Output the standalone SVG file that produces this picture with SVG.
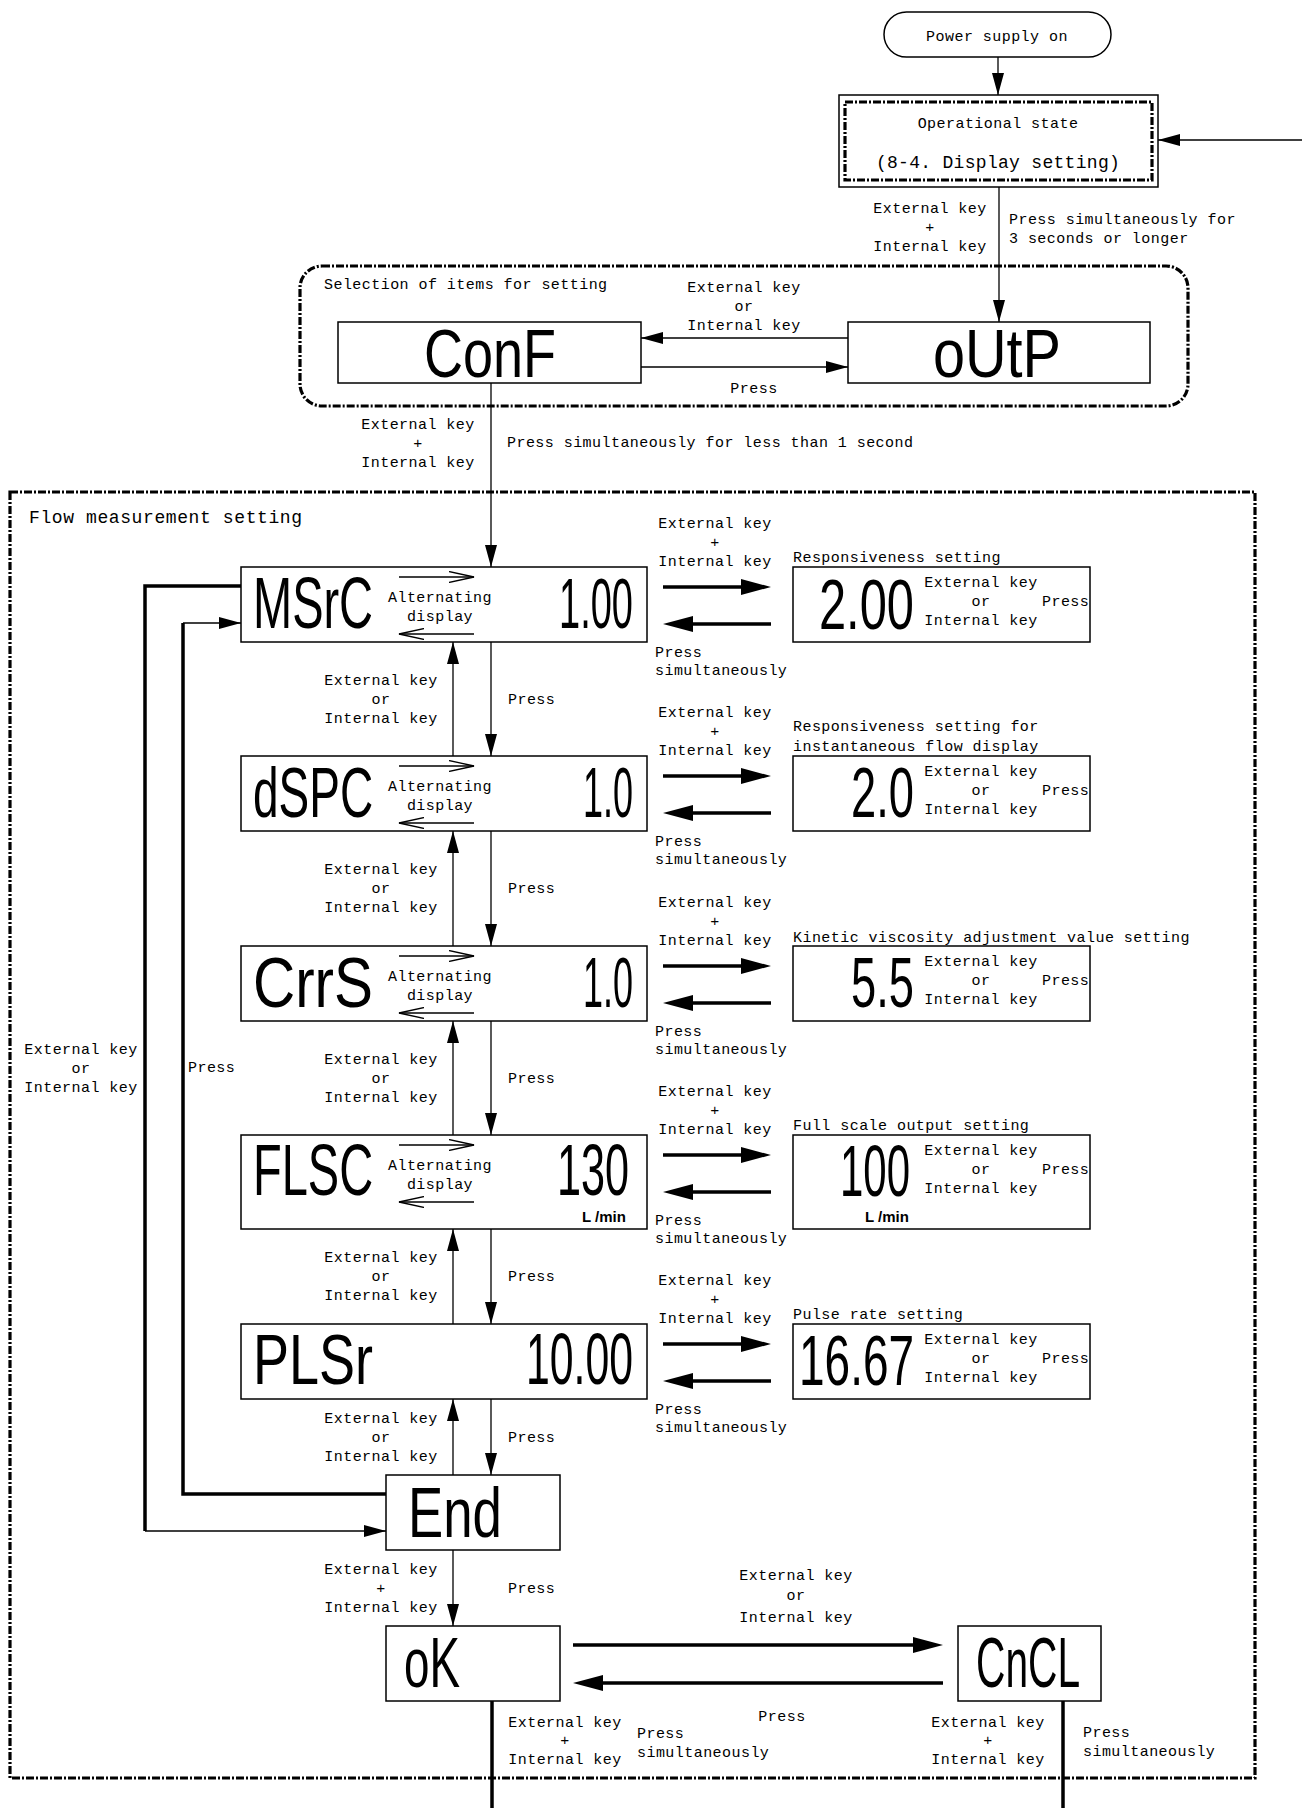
<svg xmlns="http://www.w3.org/2000/svg" width="1302" height="1808" viewBox="0 0 1302 1808">
<style>
.t{font-family:"Liberation Mono","DejaVu Sans Mono",monospace;font-size:15px;letter-spacing:0.45px;fill:#000}
.m{text-anchor:middle}
.e{text-anchor:end}
.big{font-size:18px;letter-spacing:0.3px}
.ttl{font-size:18px;letter-spacing:0.6px}
.lcd{font-family:"Liberation Sans","DejaVu Sans",sans-serif;fill:#000}
.unit{font-family:"Liberation Sans","DejaVu Sans",sans-serif;font-size:15px;font-weight:bold;fill:#000}
.box{fill:#fff;stroke:#000;stroke-width:1.5}
.thin{fill:none;stroke:#000;stroke-width:1.3}
.thick{fill:none;stroke:#000;stroke-width:3.5}
.dash{fill:none;stroke:#000;stroke-width:3.2;stroke-dasharray:8 2 2 2}
</style>
<defs>
<marker id="a" viewBox="0 0 22 12" refX="22" refY="6" markerWidth="22" markerHeight="12" markerUnits="userSpaceOnUse" orient="auto"><path d="M0,0 L22,6 L0,12 z" fill="#000"/></marker>
<marker id="b" viewBox="0 0 30 16" refX="10" refY="8" markerWidth="30" markerHeight="16" markerUnits="userSpaceOnUse" orient="auto"><path d="M0,0 L30,8 L0,16 z" fill="#000"/></marker>
<marker id="o" viewBox="0 0 26 12" refX="25" refY="6" markerWidth="26" markerHeight="12" markerUnits="userSpaceOnUse" orient="auto"><path d="M0,0.5 L25,6 L0,11.5" fill="none" stroke="#000" stroke-width="1.3"/></marker>
</defs>

<g id="groups">
<rect class="dash" x="300" y="266" width="888" height="140" rx="22"/>
<text class="t" x="324" y="289">Selection of items for setting</text>
<rect class="dash" x="10" y="492" width="1245" height="1286"/>
<text class="t ttl" x="29" y="523">Flow measurement setting</text>
</g>

<g id="connectors">
<line class="thin" x1="998" y1="57" x2="998" y2="95" marker-end="url(#a)"/>
<line class="thin" x1="1302" y1="140" x2="1158" y2="140" marker-end="url(#a)"/>
<line class="thin" x1="999" y1="187" x2="999" y2="322" marker-end="url(#a)"/>
<line class="thin" x1="848" y1="338" x2="641" y2="338" marker-end="url(#a)"/>
<line class="thin" x1="641" y1="367" x2="848" y2="367" marker-end="url(#a)"/>
<line class="thin" x1="491" y1="383" x2="491" y2="567" marker-end="url(#a)"/>
<line class="thin" x1="453" y1="756" x2="453" y2="642" marker-end="url(#a)"/>
<line class="thin" x1="491" y1="642" x2="491" y2="756" marker-end="url(#a)"/>
<line class="thin" x1="453" y1="946" x2="453" y2="831" marker-end="url(#a)"/>
<line class="thin" x1="491" y1="831" x2="491" y2="946" marker-end="url(#a)"/>
<line class="thin" x1="453" y1="1135" x2="453" y2="1021" marker-end="url(#a)"/>
<line class="thin" x1="491" y1="1021" x2="491" y2="1135" marker-end="url(#a)"/>
<line class="thin" x1="453" y1="1324" x2="453" y2="1229" marker-end="url(#a)"/>
<line class="thin" x1="491" y1="1229" x2="491" y2="1324" marker-end="url(#a)"/>
<line class="thin" x1="453" y1="1475" x2="453" y2="1399" marker-end="url(#a)"/>
<line class="thin" x1="491" y1="1399" x2="491" y2="1475" marker-end="url(#a)"/>
<line class="thin" x1="453" y1="1550" x2="453" y2="1626" marker-end="url(#a)"/>
<path class="thick" d="M241,586 L145,586 L145,1531"/>
<line class="thin" x1="145" y1="1531" x2="386" y2="1531" marker-end="url(#a)"/>
<path class="thick" d="M386,1494 L183,1494 L183,623"/>
<line class="thin" x1="183" y1="623" x2="241" y2="623" marker-end="url(#a)"/>
<path class="thick" d="M663,587 L751,587" marker-end="url(#b)"/>
<path class="thick" d="M771,624 L683,624" marker-end="url(#b)"/>
<path class="thick" d="M663,776 L751,776" marker-end="url(#b)"/>
<path class="thick" d="M771,813 L683,813" marker-end="url(#b)"/>
<path class="thick" d="M663,966 L751,966" marker-end="url(#b)"/>
<path class="thick" d="M771,1003 L683,1003" marker-end="url(#b)"/>
<path class="thick" d="M663,1155 L751,1155" marker-end="url(#b)"/>
<path class="thick" d="M771,1192 L683,1192" marker-end="url(#b)"/>
<path class="thick" d="M663,1344 L751,1344" marker-end="url(#b)"/>
<path class="thick" d="M771,1381 L683,1381" marker-end="url(#b)"/>
<path class="thick" d="M573,1645 L923,1645" marker-end="url(#b)"/>
<path class="thick" d="M943,1683 L593,1683" marker-end="url(#b)"/>
<line class="thick" x1="492" y1="1701" x2="492" y2="1808"/>
<line class="thick" x1="1063" y1="1701" x2="1063" y2="1808"/>
</g>

<g id="labels">
<text class="t m"><tspan x="930" y="213">External key</tspan><tspan x="930" y="232">+</tspan><tspan x="930" y="251">Internal key</tspan></text>
<text class="t"><tspan x="1009" y="224">Press simultaneously for</tspan><tspan x="1009" y="243">3 seconds or longer</tspan></text>
<text class="t m"><tspan x="744" y="292">External key</tspan><tspan x="744" y="311">or</tspan><tspan x="744" y="330">Internal key</tspan></text>
<text class="t m" x="754" y="393">Press</text>
<text class="t m"><tspan x="418" y="429">External key</tspan><tspan x="418" y="448">+</tspan><tspan x="418" y="467">Internal key</tspan></text>
<text class="t" x="507" y="447">Press simultaneously for less than 1 second</text>

<text class="t m"><tspan x="381" y="685">External key</tspan><tspan x="381" y="704">or</tspan><tspan x="381" y="723">Internal key</tspan></text><text class="t" x="508" y="704">Press</text>
<text class="t m"><tspan x="381" y="874">External key</tspan><tspan x="381" y="893">or</tspan><tspan x="381" y="912">Internal key</tspan></text><text class="t" x="508" y="893">Press</text>
<text class="t m"><tspan x="381" y="1064">External key</tspan><tspan x="381" y="1083">or</tspan><tspan x="381" y="1102">Internal key</tspan></text><text class="t" x="508" y="1083">Press</text>
<text class="t m"><tspan x="381" y="1262">External key</tspan><tspan x="381" y="1281">or</tspan><tspan x="381" y="1300">Internal key</tspan></text><text class="t" x="508" y="1281">Press</text>
<text class="t m"><tspan x="381" y="1423">External key</tspan><tspan x="381" y="1442">or</tspan><tspan x="381" y="1461">Internal key</tspan></text><text class="t" x="508" y="1442">Press</text>
<text class="t m"><tspan x="381" y="1574">External key</tspan><tspan x="381" y="1593">+</tspan><tspan x="381" y="1612">Internal key</tspan></text><text class="t" x="508" y="1593">Press</text>

<text class="t m"><tspan x="81" y="1054">External key</tspan><tspan x="81" y="1073">or</tspan><tspan x="81" y="1092">Internal key</tspan></text>
<text class="t" x="188" y="1072">Press</text>

<text class="t m"><tspan x="715" y="528">External key</tspan><tspan x="715" y="547">+</tspan><tspan x="715" y="566">Internal key</tspan></text>
<text class="t"><tspan x="655" y="657">Press</tspan><tspan x="655" y="675">simultaneously</tspan></text>
<text class="t m"><tspan x="715" y="717">External key</tspan><tspan x="715" y="736">+</tspan><tspan x="715" y="755">Internal key</tspan></text>
<text class="t"><tspan x="655" y="846">Press</tspan><tspan x="655" y="864">simultaneously</tspan></text>
<text class="t m"><tspan x="715" y="907">External key</tspan><tspan x="715" y="926">+</tspan><tspan x="715" y="945">Internal key</tspan></text>
<text class="t"><tspan x="655" y="1036">Press</tspan><tspan x="655" y="1054">simultaneously</tspan></text>
<text class="t m"><tspan x="715" y="1096">External key</tspan><tspan x="715" y="1115">+</tspan><tspan x="715" y="1134">Internal key</tspan></text>
<text class="t"><tspan x="655" y="1225">Press</tspan><tspan x="655" y="1243">simultaneously</tspan></text>
<text class="t m"><tspan x="715" y="1285">External key</tspan><tspan x="715" y="1304">+</tspan><tspan x="715" y="1323">Internal key</tspan></text>
<text class="t"><tspan x="655" y="1414">Press</tspan><tspan x="655" y="1432">simultaneously</tspan></text>

<text class="t m"><tspan x="796" y="1580">External key</tspan><tspan x="796" y="1600">or</tspan><tspan x="796" y="1622">Internal key</tspan></text>
<text class="t m" x="782" y="1721">Press</text>
<text class="t m"><tspan x="565" y="1727">External key</tspan><tspan x="565" y="1745">+</tspan><tspan x="565" y="1764">Internal key</tspan></text>
<text class="t"><tspan x="637" y="1738">Press</tspan><tspan x="637" y="1757">simultaneously</tspan></text>
<text class="t m"><tspan x="988" y="1727">External key</tspan><tspan x="988" y="1745">+</tspan><tspan x="988" y="1764">Internal key</tspan></text>
<text class="t"><tspan x="1083" y="1737">Press</tspan><tspan x="1083" y="1756">simultaneously</tspan></text>
</g>

<g id="power">
<rect class="box" x="884" y="12" width="227" height="45" rx="22.5"/>
<text class="t m" x="997" y="41">Power supply on</text>
</g>
<g id="operational">
<rect class="box" x="839" y="95" width="319" height="92"/>
<rect class="dash" x="845" y="102" width="307" height="78"/>
<text class="t m"><tspan x="998" y="128">Operational state</tspan><tspan class="big" x="998" y="168">(8-4. Display setting)</tspan></text>
</g>
<g id="conf">
<rect class="box" x="338" y="322" width="303" height="61"/>
<text class="lcd" x="424" y="377" font-size="54" transform="translate(0 377) scale(1 1.27) translate(0 -377)">ConF</text>
</g>
<g id="outp">
<rect class="box" x="848" y="322" width="302" height="61"/>
<text class="lcd" x="933" y="377" font-size="57.6" transform="translate(0 377) scale(1 1.19) translate(0 -377)">oUtP</text>
</g>

<g id="msrc">
<rect class="box" x="241" y="567" width="406" height="75"/>
<text class="lcd" x="253" y="628" font-size="47" transform="translate(0 628) scale(1 1.52) translate(0 -628)">MSrC</text>
<text class="lcd" x="559" y="628" font-size="38" transform="translate(0 628) scale(1 1.875) translate(0 -628)">1.00</text>
<line class="thin" x1="399" y1="577" x2="474" y2="577" marker-end="url(#o)"/>
<line class="thin" x1="474" y1="634" x2="399" y2="634" marker-end="url(#o)"/>
<text class="t m"><tspan x="440" y="602">Alternating</tspan><tspan x="440" y="621">display</tspan></text>
</g>
<g id="msrc-set">
<rect class="box" x="793" y="567" width="297" height="75"/>
<text class="t" x="793" y="562">Responsiveness setting</text>
<text class="lcd" x="819" y="629" font-size="48.8" transform="translate(0 629) scale(1 1.44) translate(0 -629)">2.00</text>
<text class="t m"><tspan x="981" y="587">External key</tspan><tspan x="981" y="606">or</tspan><tspan x="981" y="625">Internal key</tspan></text><text class="t" x="1042" y="606">Press</text>
</g>

<g id="dspc">
<rect class="box" x="241" y="756" width="406" height="75"/>
<text class="lcd" x="253" y="817" font-size="46" transform="translate(0 817) scale(1 1.55) translate(0 -817)">dSPC</text>
<text class="lcd" x="583" y="817" font-size="36" transform="translate(0 817) scale(1 1.98) translate(0 -817)">1.0</text>
<line class="thin" x1="399" y1="766" x2="474" y2="766" marker-end="url(#o)"/>
<line class="thin" x1="474" y1="823" x2="399" y2="823" marker-end="url(#o)"/>
<text class="t m"><tspan x="440" y="791">Alternating</tspan><tspan x="440" y="810">display</tspan></text>
</g>
<g id="dspc-set">
<rect class="box" x="793" y="756" width="297" height="75"/>
<text class="t"><tspan x="793" y="731">Responsiveness setting for</tspan><tspan x="793" y="751">instantaneous flow display</tspan></text>
<text class="lcd" x="851" y="817" font-size="45.3" transform="translate(0 817) scale(1 1.57) translate(0 -817)">2.0</text>
<text class="t m"><tspan x="981" y="776">External key</tspan><tspan x="981" y="795">or</tspan><tspan x="981" y="814">Internal key</tspan></text><text class="t" x="1042" y="795">Press</text>
</g>

<g id="crrs">
<rect class="box" x="241" y="946" width="406" height="75"/>
<text class="lcd" x="253" y="1007" font-size="58.4" transform="translate(0 1007) scale(1 1.22) translate(0 -1007)">CrrS</text>
<text class="lcd" x="583" y="1007" font-size="36" transform="translate(0 1007) scale(1 1.98) translate(0 -1007)">1.0</text>
<line class="thin" x1="399" y1="956" x2="474" y2="956" marker-end="url(#o)"/>
<line class="thin" x1="474" y1="1013" x2="399" y2="1013" marker-end="url(#o)"/>
<text class="t m"><tspan x="440" y="981">Alternating</tspan><tspan x="440" y="1000">display</tspan></text>
</g>
<g id="crrs-set">
<rect class="box" x="793" y="946" width="297" height="75"/>
<text class="t" x="793" y="942">Kinetic viscosity adjustment value setting</text>
<text class="lcd" x="851" y="1007" font-size="45.3" transform="translate(0 1007) scale(1 1.57) translate(0 -1007)">5.5</text>
<text class="t m"><tspan x="981" y="966">External key</tspan><tspan x="981" y="985">or</tspan><tspan x="981" y="1004">Internal key</tspan></text><text class="t" x="1042" y="985">Press</text>
</g>

<g id="flsc">
<rect class="box" x="241" y="1135" width="406" height="94"/>
<text class="lcd" x="253" y="1195" font-size="47" transform="translate(0 1195) scale(1 1.545) translate(0 -1195)">FLSC</text>
<text class="lcd" x="557" y="1195" font-size="43.2" transform="translate(0 1195) scale(1 1.68) translate(0 -1195)">130</text>
<text class="unit" x="582" y="1222">L /min</text>
<line class="thin" x1="399" y1="1145" x2="474" y2="1145" marker-end="url(#o)"/>
<line class="thin" x1="474" y1="1202" x2="399" y2="1202" marker-end="url(#o)"/>
<text class="t m"><tspan x="440" y="1170">Alternating</tspan><tspan x="440" y="1189">display</tspan></text>
</g>
<g id="flsc-set">
<rect class="box" x="793" y="1135" width="297" height="94"/>
<text class="t" x="793" y="1130">Full scale output setting</text>
<text class="lcd" x="840" y="1196" font-size="42" transform="translate(0 1196) scale(1 1.70) translate(0 -1196)">100</text>
<text class="unit" x="865" y="1222">L /min</text>
<text class="t m"><tspan x="981" y="1155">External key</tspan><tspan x="981" y="1174">or</tspan><tspan x="981" y="1193">Internal key</tspan></text><text class="t" x="1042" y="1174">Press</text>
</g>

<g id="plsr">
<rect class="box" x="241" y="1324" width="406" height="75"/>
<text class="lcd" x="253" y="1384" font-size="54" transform="translate(0 1384) scale(1 1.32) translate(0 -1384)">PLSr</text>
<text class="lcd" x="526" y="1384" font-size="42.8" transform="translate(0 1384) scale(1 1.67) translate(0 -1384)">10.00</text>
</g>
<g id="plsr-set">
<rect class="box" x="793" y="1324" width="297" height="75"/>
<text class="t" x="793" y="1319">Pulse rate setting</text>
<text class="lcd" x="799" y="1385" font-size="46" transform="translate(0 1385) scale(1 1.52) translate(0 -1385)">16.67</text>
<text class="t m"><tspan x="981" y="1344">External key</tspan><tspan x="981" y="1363">or</tspan><tspan x="981" y="1382">Internal key</tspan></text><text class="t" x="1042" y="1363">Press</text>
</g>

<g id="end">
<rect class="box" x="386" y="1475" width="174" height="75"/>
<text class="lcd" x="408" y="1537" font-size="52.8" transform="translate(0 1537) scale(1 1.32) translate(0 -1537)">End</text>
</g>
<g id="ok">
<rect class="box" x="386" y="1626" width="174" height="75"/>
<text class="lcd" x="404" y="1687" font-size="45.8" transform="translate(0 1687) scale(1 1.52) translate(0 -1687)">oK</text>
</g>
<g id="cncl">
<rect class="box" x="958" y="1626" width="143" height="75"/>
<text class="lcd" x="976" y="1687" font-size="40.7" transform="translate(0 1687) scale(1 1.72) translate(0 -1687)">CnCL</text>
</g>
</svg>
